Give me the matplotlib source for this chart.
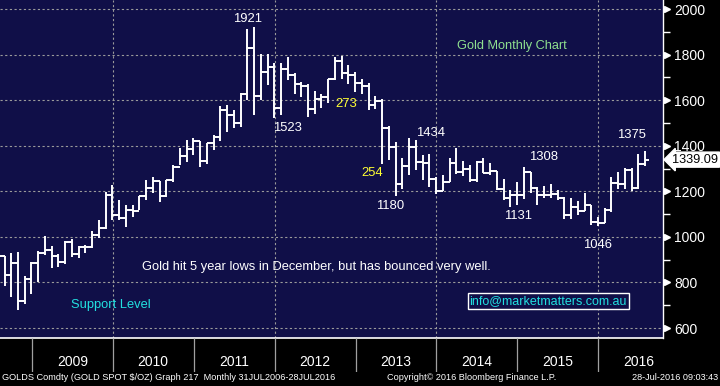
import matplotlib
matplotlib.use("Agg")
import matplotlib.pyplot as plt
import matplotlib.transforms as mtransforms
from matplotlib import font_manager
import numpy as np

# ---------------- data (monthly OHLC, Jul 2008 .. Jul 2016) ----------------
opens = [928, 918, 833, 884, 718, 815,
         884, 928, 942, 917, 891, 979, 927, 955, 955, 1008, 1040, 1182,
         1096, 1081, 1118, 1113, 1180, 1213, 1244, 1181, 1248, 1307, 1357, 1386,
         1421, 1333, 1410, 1439, 1556, 1536, 1500, 1628, 1828, 1620, 1722, 1746,
         1565, 1738, 1710, 1669, 1664, 1560, 1604, 1615, 1691, 1773, 1719, 1712,
         1675, 1664, 1578, 1595, 1477, 1393, 1234, 1313, 1396, 1327, 1323, 1253,
         1202, 1240, 1326, 1284, 1296, 1250, 1327, 1282, 1287, 1210, 1171, 1183,
         1184, 1284, 1213, 1183, 1184, 1190, 1172, 1095, 1132, 1115, 1142, 1065,
         1061, 1118, 1238, 1233, 1293, 1215, 1322]
highs = [988, 918, 930, 933, 830, 889,
         937, 1006, 962, 927, 982, 990, 960, 966, 1025, 1072, 1195, 1227,
         1162, 1139, 1138, 1181, 1249, 1265, 1245, 1250, 1314, 1388, 1424, 1432,
         1423, 1411, 1447, 1575, 1577, 1556, 1632, 1913, 1921, 1804, 1803, 1764,
         1764, 1791, 1720, 1678, 1669, 1640, 1627, 1692, 1788, 1795, 1755, 1723,
         1694, 1676, 1617, 1606, 1488, 1417, 1348, 1434, 1424, 1361, 1362, 1262,
         1270, 1345, 1392, 1332, 1315, 1332, 1345, 1324, 1288, 1255, 1205, 1239,
         1308, 1285, 1219, 1224, 1232, 1205, 1175, 1170, 1157, 1192, 1142, 1088,
         1126, 1263, 1283, 1304, 1303, 1362, 1375]
lows = [904, 786, 736, 681, 705, 749,
        802, 919, 865, 866, 883, 913, 908, 931, 953, 993, 1034, 1075,
        1075, 1045, 1087, 1118, 1163, 1193, 1155, 1176, 1242, 1314, 1330, 1360,
        1308, 1320, 1380, 1419, 1462, 1478, 1481, 1600, 1535, 1600, 1668, 1523,
        1537, 1688, 1627, 1613, 1527, 1540, 1564, 1587, 1687, 1693, 1672, 1636,
        1625, 1555, 1562, 1321, 1338, 1180, 1208, 1272, 1292, 1251, 1221, 1187,
        1202, 1239, 1278, 1268, 1240, 1241, 1281, 1273, 1206, 1161, 1131, 1142,
        1167, 1191, 1142, 1170, 1170, 1162, 1077, 1080, 1098, 1112, 1052, 1046,
        1061, 1111, 1208, 1209, 1200, 1208, 1310]
closes = [918, 833, 884, 718, 815, 884,
          928, 942, 917, 891, 979, 927, 955, 955, 1008, 1040, 1182, 1096,
          1081, 1118, 1113, 1180, 1213, 1244, 1181, 1248, 1307, 1357, 1386, 1421,
          1333, 1410, 1439, 1556, 1536, 1500, 1628, 1828, 1620, 1722, 1746, 1565,
          1738, 1710, 1669, 1664, 1560, 1604, 1615, 1691, 1773, 1719, 1712, 1675,
          1664, 1578, 1595, 1477, 1393, 1234, 1313, 1396, 1327, 1323, 1253, 1202,
          1240, 1326, 1284, 1296, 1250, 1327, 1282, 1287, 1210, 1171, 1183, 1184,
          1284, 1213, 1183, 1184, 1190, 1172, 1095, 1132, 1115, 1142, 1065, 1061,
          1118, 1238, 1233, 1293, 1215, 1322, 1339.09]
years = ["2009", "2010", "2011", "2012", "2013", "2014", "2015", "2016"]
yticks = [600, 800, 1000, 1200, 1400, 1600, 1800, 2000]
last_price = 1339.09

labels_white = [("1921", 37.1, 1956), ("1523", 43.0, 1478), ("1180", 58.2, 1136),
                ("1434", 64.1, 1456), ("1308", 81.0, 1351), ("1131", 77.1, 1092),
                ("1375", 94.0, 1447), ("1046", 89.0, 964)]
labels_yellow = [("273", 51.6, 1583), ("254", 55.5, 1280)]

# ---------------- fonts ----------------
avail = {f.name for f in font_manager.fontManager.ttflist}
main_font = "Liberation Sans" if "Liberation Sans" in avail else "DejaVu Sans"
narrow_font = "Liberation Sans Narrow" if "Liberation Sans Narrow" in avail else main_font
plt.rcParams["font.family"] = [main_font, "DejaVu Sans"]

W, H = 720, 386
fig = plt.figure(figsize=(7.2, 3.86), dpi=100, facecolor="black")

navy = "#100f48"
plot_right = 663 / W
plot_bottom = 1 - 338 / H
ax = fig.add_axes([0, plot_bottom, plot_right, 1 - plot_bottom], facecolor=navy)

x = np.arange(len(opens))
tw = 0.5
ax.vlines(x, lows, highs, color="white", lw=1.4)
ax.hlines(opens, x - tw, x, color="white", lw=1.4)
ax.hlines(closes, x, x + tw, color="white", lw=1.4)

ax.set_xlim(0.33, 98.64)
ax.set_ylim(556.4, 2039.5)

# grid
for v in yticks:
    ax.axhline(v, color="#9a9a9a", lw=0.8, ls=(0, (2, 2.2)), zorder=0)
for xi in [17, 41, 65, 89]:
    ax.axvline(xi + 0.05, color="#9a9a9a", lw=0.8, ls=(0, (2, 2.2)), zorder=0)

# right axis
ax.yaxis.tick_right()
ax.set_yticks(yticks)
ax.set_yticklabels([str(v) for v in yticks], color="white", fontsize=10)
ax.tick_params(axis="y", which="major", length=0, pad=8)
ax.set_yticks(np.arange(700, 2000, 200), minor=True)
ax.tick_params(axis="y", which="minor", length=5, width=1, color="white", direction="out")
ax.set_xticks([])
tr = mtransforms.blended_transform_factory(ax.transAxes, ax.transData)
ax.plot([1.0055] * len(yticks), yticks, marker=">", ls="none", ms=5, color="white",
        transform=tr, clip_on=False)
for s in ["top", "left"]:
    ax.spines[s].set_visible(False)
ax.spines["right"].set_color("white")
ax.spines["bottom"].set_color("white")
ax.spines["right"].set_linewidth(1)
ax.spines["bottom"].set_linewidth(1.2)

# last price tag
ax.text(1.0135, last_price, f"{last_price:.2f}", transform=tr, color="black", fontsize=9.2,
        va="center", ha="left", clip_on=False,
        bbox=dict(boxstyle="larrow,pad=0.12", fc="white", ec="white"))

# annotations
fs = 9.4
for t, xx, yy in labels_white:
    ax.text(xx, yy, t, color="white", fontsize=fs, ha="center", va="center")
for t, xx, yy in labels_yellow:
    ax.text(xx, yy, t, color="#ffff33", fontsize=fs, ha="center", va="center")
ax.text(76.25, 1838, "Gold Monthly Chart", color="#8fe08f", fontsize=9.2, ha="center", va="center")
ax.text(47.2, 868, "Gold hit 5 year lows in December, but has bounced very well.",
        color="white", fontsize=9.3, ha="center", va="center")
ax.text(16.8, 701, "Support Level", color="#22e0e0", fontsize=9.3, ha="center", va="center")
ax.text(81.6, 719, "info@marketmatters.com.au", color="#22e0e0", fontsize=9.0, ha="center",
        va="center", bbox=dict(boxstyle="square,pad=0.15", fc=navy, ec="white", lw=1))

# bottom year strip
sb = 1 - 372 / H
ax2 = fig.add_axes([0, sb, plot_right, plot_bottom - sb], facecolor="black")
ax2.set_xlim(ax.get_xlim())
ax2.set_ylim(0, 1)
seps = [5 + 12 * k + 0.05 for k in range(len(years))]
ax2.vlines(seps, 0, 1, color="#a0a0a0", lw=0.9)
for k, yr in enumerate(years):
    ax2.text(seps[k] + 6, 0.3, yr, color="white", fontsize=10, ha="center", va="center",
             family=[narrow_font, "DejaVu Sans"])
ax2.axis("off")

# footer
fy = 1 - 378 / H
fig.text(2 / W, fy, "GOLDS Comdty (GOLD SPOT $/OZ) Graph 217  Monthly 31JUL2006-28JUL2016",
         color="white", fontsize=6.6, ha="left", va="center", family=[narrow_font, "DejaVu Sans"])
fig.text(472 / W, fy, "Copyright\u00a9 2016 Bloomberg Finance L.P.", color="white", fontsize=6.6,
         ha="center", va="center", family=[narrow_font, "DejaVu Sans"])
fig.text(718 / W, fy, "28-Jul-2016 09:03:43", color="white", fontsize=6.6, ha="right",
         va="center", family=[narrow_font, "DejaVu Sans"])

fig.savefig("out.png", dpi=100, facecolor="black")
